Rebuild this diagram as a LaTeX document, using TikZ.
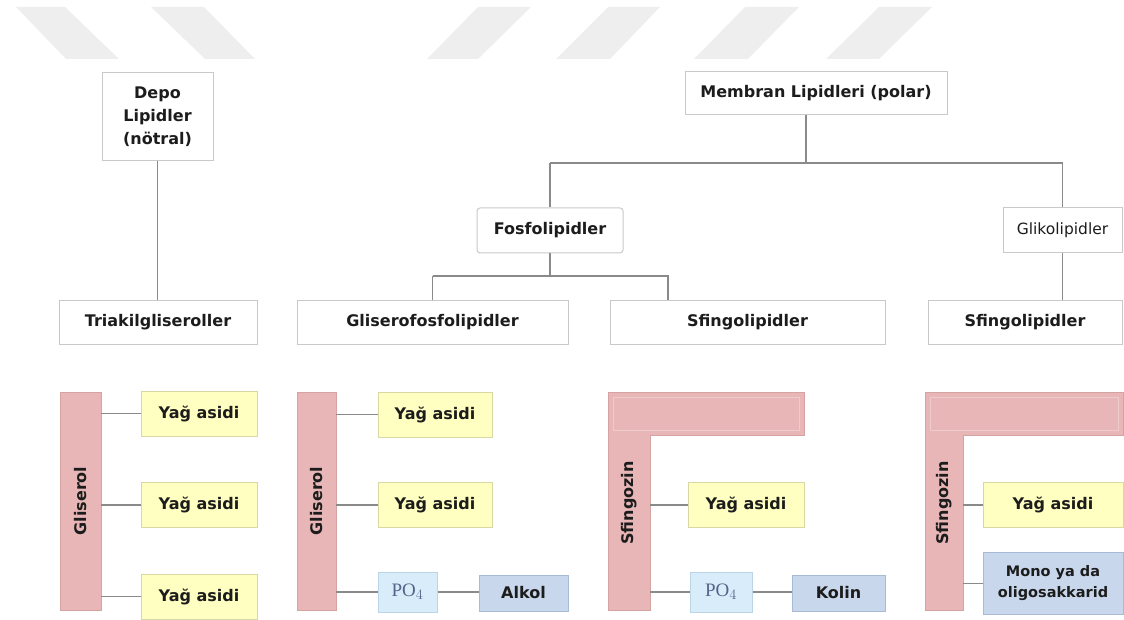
\documentclass[tikz,border=0pt]{standalone}
\usepackage{fontspec}
\setmainfont{DejaVu Sans}
\newfontfamily\poserif{Liberation Serif}
\definecolor{wm}{HTML}{EEEEEE}
\definecolor{boxd}{HTML}{C9C9C9}
\definecolor{linec}{HTML}{8A8A8A}
\definecolor{pinkf}{HTML}{E8B6B6}
\definecolor{pinkd}{HTML}{D6A3A3}
\definecolor{yelf}{HTML}{FFFFC2}
\definecolor{yeld}{HTML}{D8D8A4}
\definecolor{pof}{HTML}{D8ECFA}
\definecolor{pod}{HTML}{BAD4E8}
\definecolor{alf}{HTML}{C8D7EC}
\definecolor{ald}{HTML}{A8BBD6}
\definecolor{txt}{HTML}{1C1C1C}
\definecolor{potxt}{HTML}{55658A}
\begin{document}
\begin{tikzpicture}[x=1pt,y=-1pt,
  box/.style={draw=boxd, line width=1pt, fill=white, text=txt, align=center, inner sep=0pt,
    font=\bfseries\fontsize{16}{23}\selectfont},
  link/.style={draw=linec, line width=1.2pt},
  bar/.style={fill=pinkf, draw=pinkd, line width=0.8pt},
  fa/.style={draw=yeld, fill=yelf, line width=1pt, text=txt, inner sep=0pt,
    font=\bfseries\fontsize{16}{20}\selectfont, minimum height=45},
  po/.style={draw=pod, fill=pof, line width=1pt, text=potxt, inner sep=0pt,
    font=\poserif\fontsize{19}{20}\selectfont, minimum height=40},
  al/.style={draw=ald, fill=alf, line width=1pt, text=txt, inner sep=0pt, align=center,
    font=\bfseries\fontsize{16}{20}\selectfont},
  bartext/.style={text=txt, rotate=90, font=\bfseries\fontsize{16}{20}\selectfont, inner sep=0pt}
]
\useasboundingbox (0,0) rectangle (1124,620);
% watermark
\foreach \a/\b/\c/\d in {16/65/119/66, 151/204/255/205}{
  \fill[wm] (\a,7) -- (\b,7) -- (\c,59) -- (\d,59) -- cycle;}
\foreach \a/\b/\c/\d in {478/531/478/427, 608/660/610/556, 745/799/748/694, 879/932/879/826}{
  \fill[wm] (\a,7) -- (\b,7) -- (\c,59) -- (\d,59) -- cycle;}

% upper tree
\node[box, minimum width=111, minimum height=88] (depo) at (157.5,117) {Depo\\Lipidler\\(nötral)};
\node[box, minimum width=262, minimum height=43] (memb) at (816,93.5) {Membran Lipidleri (polar)};
\node[box, rounded corners=3pt, minimum width=146, minimum height=45] (fosfo) at (550,230.5) {Fosfolipidler};
\node[box, minimum width=119, minimum height=45, font=\fontsize{15.5}{20}\selectfont] (gliko) at (1062.5,230.5) {Glikolipidler};
\node[box, minimum width=198, minimum height=44] (triak) at (158,322) {Triakilgliseroller};
\node[box, minimum width=271, minimum height=44] (glifos) at (432.5,322) {Gliserofosfolipidler};
\node[box, minimum width=275, minimum height=44] (sfin1) at (747.5,322) {Sfingolipidler};
\node[box, minimum width=194, minimum height=44] (sfin2) at (1025,322) {Sfingolipidler};

\coordinate (mdown) at (806,163);
\coordinate (fdown) at (550,276);
\coordinate (sdown) at (668,276);
\draw[link] (depo.south) -- (depo.south |- triak.north);
\draw[link] (memb.south -| mdown) -- (mdown);
\draw[link] (fosfo.north |- mdown) -- (fosfo.north);
\draw[link] (fosfo.north |- mdown) -- (gliko.north |- mdown) -- (gliko.north);
\draw[link] (gliko.south) -- (gliko.south |- sfin2.north);
\draw[link] (fosfo.south) -- (fdown);
\draw[link] (glifos.north |- fdown) -- (sdown) -- (sdown |- sfin1.north);
\draw[link] (glifos.north |- fdown) -- (glifos.north);

% column 1: triacylglycerol
\node[bar, minimum width=41, minimum height=218, inner sep=0pt] (gl1) at (80.5,501) {};
\node[bartext] at (gl1.center) {Gliserol};
\node[fa, minimum width=116] (f1a) at (199,413.5) {Yağ asidi};
\node[fa, minimum width=116] (f1b) at (199,505) {Yağ asidi};
\node[fa, minimum width=116] (f1c) at (199,596.5) {Yağ asidi};
\draw[link] (gl1.east |- f1a.west) -- (f1a.west);
\draw[link] (gl1.east |- f1b.west) -- (f1b.west);
\draw[link] (gl1.east |- f1c.west) -- (f1c.west);

% column 2: glycerophospholipid
\node[bar, minimum width=39, minimum height=218, inner sep=0pt] (gl2) at (316.5,501) {};
\node[bartext] at (gl2.center) {Gliserol};
\node[fa, minimum width=114] (f2a) at (435,414.5) {Yağ asidi};
\node[fa, minimum width=114] (f2b) at (435,505) {Yağ asidi};
\node[po, minimum width=59] (po1) at (407.5,592) {PO$_4$};
\node[al, minimum width=89, minimum height=36] (alk) at (523.5,593) {Alkol};
\draw[link] (gl2.east |- f2a.west) -- (f2a.west);
\draw[link] (gl2.east |- f2b.west) -- (f2b.west);
\draw[link] (gl2.east |- po1.west) -- (po1.west);
\draw[link] (po1.east) -- (alk.west |- po1.east);

% column 3: sphingophospholipid
\draw[bar] (608,392) -- (804,392) -- (804,435) -- (650,435) -- (650,610) -- (608,610) -- cycle;
\draw[white!30!pinkf, line width=0.7pt] (613,397) rectangle (799,430);
\node[minimum width=42, minimum height=175, inner sep=0pt] (sz1) at (629,522.5) {};
\node[bartext] at (629,503) {Sfingozin};
\node[fa, minimum width=116] (f3) at (746,505) {Yağ asidi};
\node[po, minimum width=62] (po2) at (721,592) {PO$_4$};
\node[al, minimum width=93, minimum height=36] (kol) at (838.5,593) {Kolin};
\draw[link] (sz1.east |- f3.west) -- (f3.west);
\draw[link] (sz1.east |- po2.west) -- (po2.west);
\draw[link] (po2.east) -- (kol.west |- po2.east);

% column 4: glycosphingolipid
\draw[bar] (925,392) -- (1123,392) -- (1123,435) -- (963,435) -- (963,610) -- (925,610) -- cycle;
\draw[white!30!pinkf, line width=0.7pt] (930,397) rectangle (1118,430);
\node[minimum width=38, minimum height=175, inner sep=0pt] (sz2) at (944,522.5) {};
\node[bartext] at (944,503) {Sfingozin};
\node[fa, minimum width=140] (f4) at (1053,505) {Yağ asidi};
\node[al, minimum width=140, minimum height=62, font=\bfseries\fontsize{14.5}{21}\selectfont] (mono) at (1053,583.5) {Mono ya da\\oligosakkarid};
\draw[link] (sz2.east |- f4.west) -- (f4.west);
\draw[link] (sz2.east |- mono.west) -- (mono.west);
\end{tikzpicture}
\end{document}
